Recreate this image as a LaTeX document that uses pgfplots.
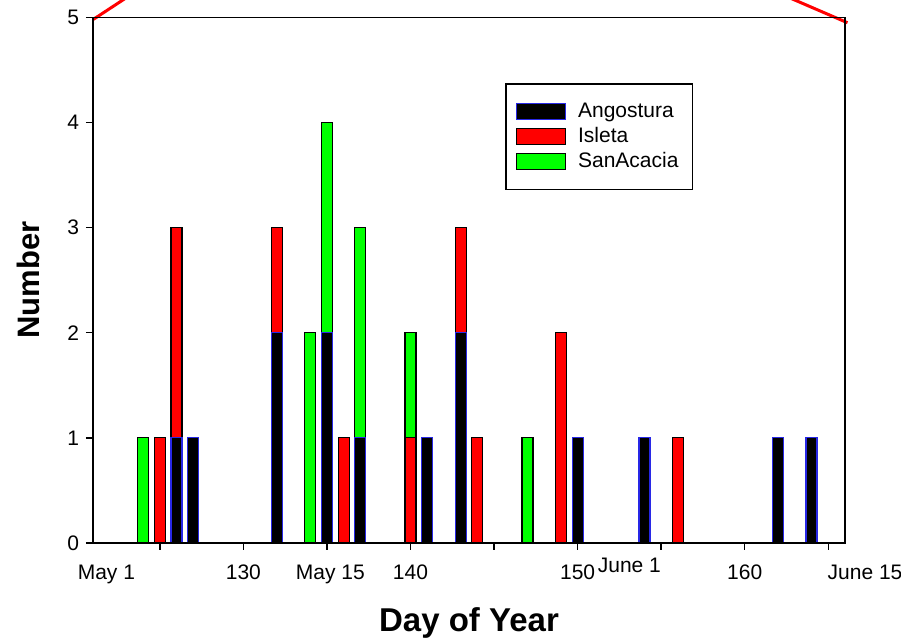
\documentclass[border=0pt]{standalone}
\usepackage{fontspec}
\setmainfont{Liberation Sans}
\usepackage{pgfplots}
\usepackage{pgfplotstable}
\pgfplotsset{compat=1.18}
\definecolor{angline}{RGB}{40,40,230}
\definecolor{isred}{RGB}{255,0,0}
\definecolor{sagreen}{RGB}{0,255,0}
\pgfplotstableread{
day A I S
124 0 0 1
125 0 1 0
126 1 2 0
127 1 0 0
132 2 1 0
134 0 0 2
135 2 0 2
136 0 1 0
137 1 0 2
140 0 1 1
141 1 0 0
143 2 1 0
144 0 1 0
147 0 0 1
149 0 2 0
150 1 0 0
154 1 0 0
156 0 1 0
162 1 0 0
164 1 0 0
}\datatable
\begin{document}
\begin{tikzpicture}
\begin{axis}[
  at={(46.5pt,49pt)}, anchor=south west,
  scale only axis, width=376pt, height=262.75pt,
  xmin=121, xmax=166, ymin=0, ymax=5,
  ybar stacked, bar width=5.5pt,
  xtick={125,130,...,165}, xticklabels={,130,,140,,150,,160,},
  ytick={0,1,...,5},
  xtick pos=bottom, ytick pos=left,
  tick align=outside, major tick length=3.5pt,
  axis line style={line width=0.9pt},
  tick style={black, line width=0.7pt},
  tick label style={font=\fontsize{10.5}{12}\selectfont},
  xticklabel style={yshift=-4pt},
  /pgf/number format/assume math mode=true,
  xlabel={Day of Year}, ylabel={Number},
  xlabel style={at={(axis description cs:0.5,-0.153)}, anchor=center,
    font=\fontsize{16.5}{19}\selectfont\bfseries},
  ylabel style={at={(axis description cs:-0.0864,0.5)}, anchor=center,
    font=\fontsize{15.5}{18}\selectfont\bfseries},
  axis on top, clip=false,
  legend cell align=left,
  legend style={at={(0.548,0.875)}, anchor=north west, draw=black, line width=0.8pt,
    font=\fontsize{10.5}{12}\selectfont, inner xsep=5pt, inner ysep=7.5pt, row sep=-0.6pt,
    /tikz/every odd column/.append style={column sep=4pt}},
]
\addplot[fill=black, draw=angline, line width=0.6pt,
  legend image code/.code={\draw[fill=black, draw=angline, line width=0.6pt] (0pt,-4pt) rectangle (24.5pt,4pt);}]
  table[x=day, y=A] {\datatable};
\addlegendentry{Angostura}
\addplot[fill=isred, draw=black, line width=0.6pt,
  legend image code/.code={\draw[fill=isred, draw=black, line width=0.6pt] (0pt,-4pt) rectangle (24.5pt,4pt);}]
  table[x=day, y=I] {\datatable};
\addlegendentry{Isleta}
\addplot[fill=sagreen, draw=black, line width=0.6pt,
  legend image code/.code={\draw[fill=sagreen, draw=black, line width=0.6pt] (0pt,-4pt) rectangle (24.5pt,4pt);}]
  table[x=day, y=S] {\datatable};
\addlegendentry{SanAcacia}
\node[font=\fontsize{10.5}{12}\selectfont] at (axis cs:121.8,-0.295) {May 1};
\node[font=\fontsize{10.5}{12}\selectfont] at (axis cs:135.2,-0.295) {May 15};
\node[font=\fontsize{10.5}{12}\selectfont] at (axis cs:153.1,-0.21) {June 1};
\node[font=\fontsize{10.5}{12}\selectfont] at (axis cs:167.2,-0.28) {June 15};
\draw[red, line width=1.5pt] (axis cs:121,4.98) -- (axis cs:123.3,5.22);
\draw[red, line width=1.5pt] (axis cs:162.5,5.2) -- (axis cs:166.15,4.95);
\end{axis}
\pgfresetboundingbox
\useasboundingbox (0,0) rectangle (450.5pt,320.5pt);
\end{tikzpicture}
\end{document}
